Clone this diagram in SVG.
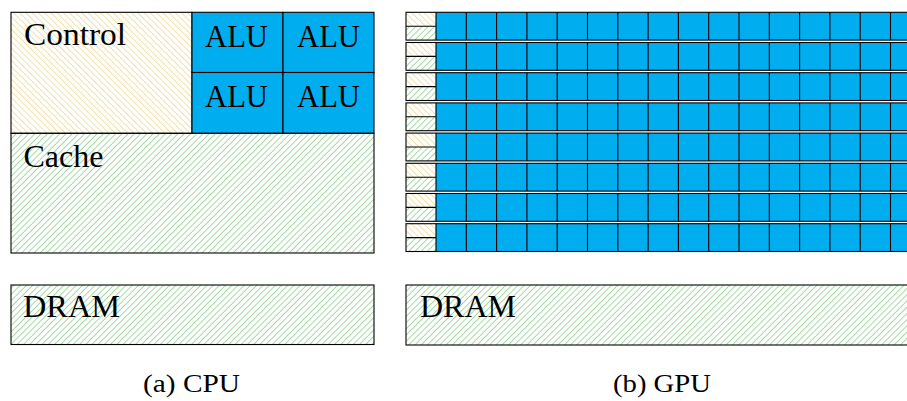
<svg xmlns="http://www.w3.org/2000/svg" xmlns:xlink="http://www.w3.org/1999/xlink" width="907" height="401" viewBox="0 0 907 401">
<style>
.box{stroke:#000;stroke-width:1.1;}
.ln{stroke:#000;stroke-width:1.1;fill:none;}
.alu{fill:#00aeef;}
.t{font-family:'Liberation Serif','DejaVu Serif',serif;font-size:31px;fill:#000;}
.cap{font-family:'Liberation Serif','DejaVu Serif',serif;font-size:25px;fill:#000;}
</style>
<defs>
<pattern id="hg" patternUnits="userSpaceOnUse" width="4.4" height="4.4" patternTransform="rotate(45)">
<line x1="0.5" y1="0" x2="0.5" y2="4.4" stroke="#a3d6a3" stroke-width="1"/>
</pattern>
<pattern id="hy" patternUnits="userSpaceOnUse" width="4.4" height="4.4" patternTransform="rotate(-45)">
<line x1="0.5" y1="0" x2="0.5" y2="4.4" stroke="#f0e0a6" stroke-width="1"/>
</pattern>
<g id="gpurow">
<rect x="406" y="0" width="30" height="13.9" fill="url(#hy)"/>
<rect x="406" y="13.9" width="30" height="13.9" fill="url(#hg)"/>
<rect x="436" y="0" width="485" height="27.8" class="alu"/>
<path class="ln" d="M466.3,0V27.8M496.6,0V27.8M526.9,0V27.8M557.2,0V27.8M587.5,0V27.8M617.8,0V27.8M648.1,0V27.8M678.4,0V27.8M708.7,0V27.8M739,0V27.8M769.3,0V27.8M799.6,0V27.8M829.9,0V27.8M860.2,0V27.8M890.5,0V27.8M436,0V27.8M406,13.9H436"/>
<rect x="406" y="0" width="515" height="27.8" class="ln"/>
</g>
</defs>
<rect width="907" height="401" fill="#fff"/>

<g id="cpu">
<g id="control">
<rect x="11" y="12.3" width="181" height="121" fill="url(#hy)" class="box"/>
<text class="t" x="24" y="45" textLength="102" lengthAdjust="spacingAndGlyphs">Control</text>
</g>
<g id="alu1">
<rect x="192" y="12.3" width="91" height="60.2" class="alu box"/>
<text class="t" x="205" y="46.5" textLength="63" lengthAdjust="spacingAndGlyphs">ALU</text>
</g>
<g id="alu2">
<rect x="283" y="12.3" width="91" height="60.2" class="alu box"/>
<text class="t" x="297" y="46.5" textLength="63" lengthAdjust="spacingAndGlyphs">ALU</text>
</g>
<g id="alu3">
<rect x="192" y="72.5" width="91" height="60.8" class="alu box"/>
<text class="t" x="205" y="106.5" textLength="63" lengthAdjust="spacingAndGlyphs">ALU</text>
</g>
<g id="alu4">
<rect x="283" y="72.5" width="91" height="60.8" class="alu box"/>
<text class="t" x="297" y="106.5" textLength="63" lengthAdjust="spacingAndGlyphs">ALU</text>
</g>
<g id="cache">
<rect x="11" y="133.3" width="363" height="119.7" fill="url(#hg)" class="box"/>
<text class="t" x="23.5" y="166.5" textLength="80" lengthAdjust="spacingAndGlyphs">Cache</text>
</g>
<g id="cpu-dram">
<rect x="11" y="285" width="363" height="59.5" fill="url(#hg)" class="box"/>
<text class="t" x="23" y="317" textLength="97" lengthAdjust="spacingAndGlyphs">DRAM</text>
</g>
<text id="cap-a" class="cap" x="143" y="391.5" textLength="97" lengthAdjust="spacingAndGlyphs">(a) CPU</text>
</g>

<g id="gpu">
<g id="gpu-row1"><use xlink:href="#gpurow" transform="translate(0,12.3)"/></g>
<g id="gpu-row2"><use xlink:href="#gpurow" transform="translate(0,42.5)"/></g>
<g id="gpu-row3"><use xlink:href="#gpurow" transform="translate(0,72.7)"/></g>
<g id="gpu-row4"><use xlink:href="#gpurow" transform="translate(0,102.9)"/></g>
<g id="gpu-row5"><use xlink:href="#gpurow" transform="translate(0,133.1)"/></g>
<g id="gpu-row6"><use xlink:href="#gpurow" transform="translate(0,163.3)"/></g>
<g id="gpu-row7"><use xlink:href="#gpurow" transform="translate(0,193.5)"/></g>
<g id="gpu-row8"><use xlink:href="#gpurow" transform="translate(0,223.7)"/></g>
<g id="gpu-dram">
<rect x="406" y="285" width="515" height="60" fill="url(#hg)" class="box"/>
<text class="t" x="420" y="317" textLength="96" lengthAdjust="spacingAndGlyphs">DRAM</text>
</g>
<text id="cap-b" class="cap" x="613" y="391.5" textLength="98" lengthAdjust="spacingAndGlyphs">(b) GPU</text>
</g>
</svg>
